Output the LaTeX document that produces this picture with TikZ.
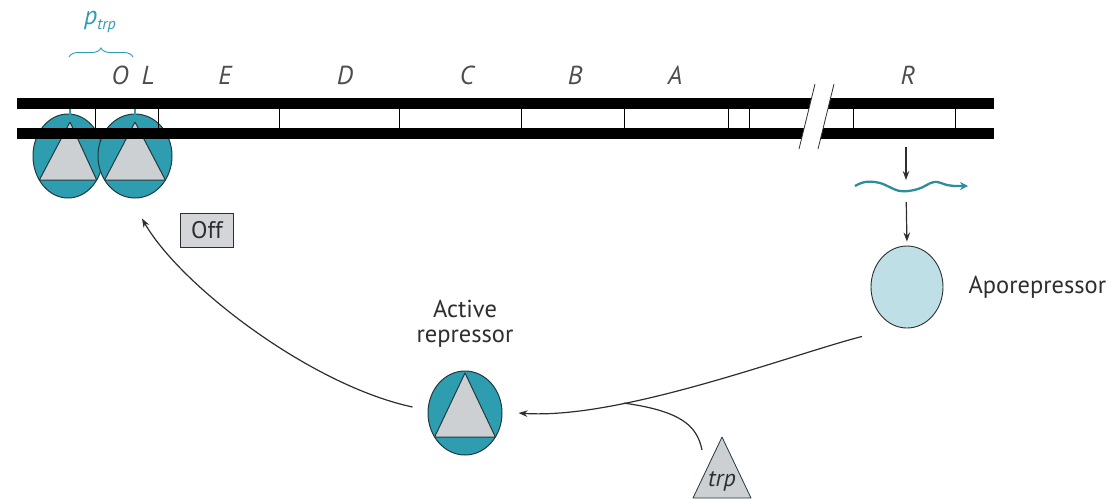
\documentclass[tikz,border=0pt]{standalone}
\usepackage{fontspec}
\setmainfont{PT Sans}
\usetikzlibrary{arrows.meta,shapes.geometric,decorations.pathreplacing,calc}

\definecolor{repteal}{HTML}{2E9DB0}
\definecolor{wavecol}{HTML}{2A8E9C}
\definecolor{trigray}{HTML}{CDD0D2}
\definecolor{edgecol}{HTML}{1F3A3F}
\definecolor{apofill}{HTML}{BFDFE6}
\definecolor{boxgray}{HTML}{D3D5D8}
\definecolor{inkgray}{HTML}{2E2E2E}

\tikzset{
  dnabar/.style={fill=black, draw=none},
  spacer/.style={draw=black, line width=0.9pt},
  genelabel/.style={font=\fontsize{26}{28}\selectfont\itshape, text=inkgray!85!white},
  repcirc/.style={ellipse, draw=edgecol, fill=repteal, line width=1pt, inner sep=0pt},
  trishape/.style={fill=trigray, draw=edgecol, line width=1pt, line join=round},
  link/.style={draw=inkgray, line width=1.2pt, -{Stealth[length=9pt,width=6.5pt]}},
  caption/.style={font=\fontsize{24.5}{25}\selectfont, text=inkgray, align=center},
}

\begin{document}
\begin{tikzpicture}[x=1pt, y=-1pt]
\useasboundingbox (0,0) rectangle (1110,499);

% repressors bound at the operator, drawn beneath the DNA strands
\node[repcirc, minimum width=70pt, minimum height=84pt] (boundA) at (68,156) {};
\node[repcirc, minimum width=74pt, minimum height=84pt] (boundB) at (135,156) {};
\draw[trishape] ($(boundA)+(2,-34)$) -- ($(boundA)+(-28.7,24)$) -- ($(boundA)+(28.7,24)$) -- cycle;
\draw[trishape] ($(boundB)+(0,-34)$) -- ($(boundB)+(-30.4,24)$) -- ($(boundB)+(30.4,24)$) -- cycle;

% the two DNA strands
\fill[dnabar] (17,98) rectangle (994,109);
\fill[dnabar] (17,128) rectangle (994,139);
\foreach \gx in {95,158,279,399,521,624,728,749,853,955}
  \draw[spacer] (\gx,109) -- (\gx,128);

% contact of the bound repressors with the operator
\draw[repteal, line width=1.6pt] ($(boundA)+(2,-34)$) -- ($(boundA)+(2,-47)$);
\draw[repteal, line width=1.6pt] ($(boundB)+(0,-34)$) -- ($(boundB)+(0,-47)$);

% break in the DNA between the operon and the R gene
\fill[white] (799,149) -- (815,84) -- (834,84) -- (818,149) -- cycle;
\draw[inkgray, line width=0.8pt] (799,149) -- (815,84) (818,149) -- (834,84);

% gene labels
\node[genelabel] (gO) at (120,75) {O};
\node[genelabel] (gL) at (148,75) {L};
\node[genelabel] (gE) at (225,75) {E};
\node[genelabel] (gD) at (345,75) {D};
\node[genelabel] (gC) at (467,75) {C};
\node[genelabel] (gB) at (575,75) {B};
\node[genelabel] (gA) at (675,75) {A};
\node[genelabel] (gR) at (908,75) {R};

% promoter
\node[text=repteal, font=\fontsize{26}{28}\selectfont\itshape] (ptrp) at (100,22)
  {p\raisebox{-0.35ex}{\fontsize{16}{17}\selectfont trp}};
\draw[repteal, line width=0.9pt, decorate, decoration={brace, amplitude=9pt}]
  (69,57) -- (133,57);

% transcription and translation of R
\coordinate (rgene) at (906,139);
\coordinate (mrna) at (906,188);
\draw[wavecol, line width=2.3pt, -{Stealth[length=8pt,width=8pt]}]
  plot[smooth, tension=0.6] coordinates {(855,186) (865,182) (880,183) (900,191) (918,189) (934,182) (947,185) (955,186)}
  -- (968,186);
\node[ellipse, draw=inkgray, fill=apofill, line width=0.9pt, minimum width=72pt, minimum height=82pt, inner sep=0pt] (apo) at (907,287) {};
\draw[link, shorten <=8pt, shorten >=8pt] (rgene) -- (mrna);
\draw[link, shorten <=14pt, shorten >=4pt] (mrna) -- (apo.north);
\node[caption, anchor=west] (apolabel) at (965,287) {Aporepressor};

% active repressor
\node[repcirc, minimum width=74pt, minimum height=84pt] (active) at (465,413) {};
\draw[trishape] ($(active)+(0,-40)$) -- ($(active)+(-30.4,24)$) -- ($(active)+(30.4,24)$) -- cycle;
\node[caption] (activelabel) at (465,324) {Active\\repressor};

% tryptophan
\coordinate (trptip) at (722,437);
\draw[trishape, line width=0.8pt] (trptip) -- (693,498) -- (751,498) -- cycle;
\node[font=\fontsize{24}{25}\selectfont\itshape, text=inkgray] (trplabel) at (722,481) {trp};

% aporepressor + trp give the active repressor
\draw[link] ([shift={(-45pt,-8pt)}]apo.south) .. controls (790,355) and (620,420) ..
  coordinate[pos=0.7] (joinpt) ([xshift=16pt]active.east);
\draw[inkgray, line width=1.2pt] ([shift={(-20pt,-13pt)}]trptip) .. controls (697,425) and (680,411) .. (joinpt);

% active repressor binds the operator
\draw[link] ([shift={(-15pt,6pt)}]active.west) .. controls (310,385) and (180,285) ..
  ([shift={(7pt,-20pt)}]boundB.south);

% state of the operon
\node[draw=inkgray, fill=boxgray, line width=1pt, minimum width=53pt, minimum height=34pt,
      inner sep=0pt, font=\fontsize{24}{25}\selectfont, text=inkgray] (offbox) at (207,230) {Off};
\end{tikzpicture}
\end{document}
